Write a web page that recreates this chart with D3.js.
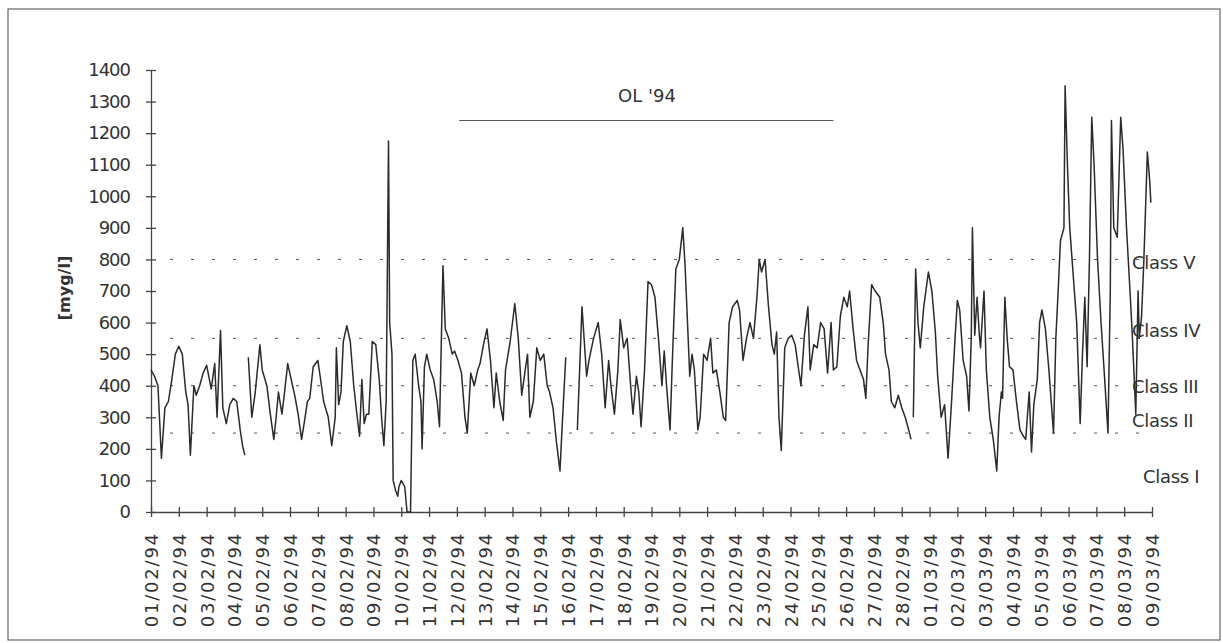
<!DOCTYPE html>
<html>
<head>
<meta charset="utf-8">
<script src="https://cdn.jsdelivr.net/npm/d3@7"></script>
<style>
  body { margin: 0; background: #fff; }
  svg text { font-family: "DejaVu Sans", sans-serif; fill: #333; }
</style>
</head>
<body>
<svg id="chart" width="1223" height="643"></svg>
<script>
const dayLabels = [
  "01/02/94", "02/02/94", "03/02/94", "04/02/94", "05/02/94", "06/02/94", "07/02/94",
  "08/02/94", "09/02/94", "10/02/94", "11/02/94", "12/02/94", "13/02/94", "14/02/94",
  "15/02/94", "16/02/94", "17/02/94", "18/02/94", "19/02/94", "20/02/94", "21/02/94",
  "22/02/94", "23/02/94", "24/02/94", "25/02/94", "26/02/94", "27/02/94", "28/02/94",
  "01/03/94", "02/03/94", "03/03/94", "04/03/94", "05/03/94", "06/03/94", "07/03/94",
  "08/03/94", "09/03/94"
];
const yTicks = [0, 100, 200, 300, 400, 500, 600, 700, 800, 900, 1000, 1100, 1200, 1300, 1400];
const classLimits = [250, 400, 550, 800];
const classNames = ["Class I", "Class II", "Class III", "Class IV", "Class V"];
const olLabel = "OL '94";
const olPeriod = [266, 589]; // hours after 01/02/94 00:00
const olLevel = 1240;

// hours after 01/02/94 00:00, null = no measurement
const hours = [
  0, 3, 6, 9, 12, 15, 18, 21, 24, 27, 30, 32, 34, 37, 39, 42, 45, 48, 52, 55, 57, 60, 62, 65, 68, 71, 74, 77, 79, 81,
  82,
  84, 87, 90, 94, 96, 100, 103, 106, 108, 110, 113, 115, 118, 121, 124, 127, 130, 133, 135, 137, 140, 144, 146, 149,
  153, 156, 159, 160, 162, 164, 166, 169, 172, 175, 178, 180, 182, 184, 186, 188, 191, 194, 197, 199, 201, 203, 205,
  206, 208, 209, 211, 213, 214, 216, 219, 221, 224, 226, 228, 231, 233, 234, 236, 238, 241, 244, 247, 249, 252, 254,
  257, 260, 262, 265, 268, 271, 273, 276, 279, 282, 284, 287, 290, 293, 296, 298, 301, 304, 306, 310, 314, 317, 320,
  323, 325, 327, 330, 333, 336, 339, 342, 344, 347, 350, 353, 355, 358,
  362,
  368, 372, 376, 378, 382, 386, 389, 392, 395, 397, 400, 403, 405, 408, 411, 414, 416, 419, 421, 423, 426, 429, 432,
  435, 438, 441, 443, 445, 448, 450, 453, 456, 459, 461, 464, 465, 467, 469, 472, 474, 477, 480, 483, 485, 488, 491,
  494, 496, 499, 502, 506, 508, 511, 514, 517, 520, 523, 525, 527, 530, 533, 536, 538, 540, 542, 544, 547, 550, 553,
  556, 559, 561, 564, 567, 569, 572, 575, 578, 581, 584, 587, 589, 592, 595, 598, 601, 603, 606, 609, 612, 615, 617,
  619, 622, 625, 629, 632, 634, 637, 639, 642, 645, 648, 651, 654, 656,
  657,
  658, 660, 662, 664, 667, 671, 674, 677, 679, 682, 685, 688, 691, 694, 696, 698, 701, 704, 706, 708, 709, 711, 713,
  715, 716, 719, 721, 724, 727, 730, 732, 734, 735, 737, 739, 741, 744, 747, 750, 753, 755, 757, 758, 760, 762, 765,
  767, 769, 772, 775, 777, 779, 781, 783, 785, 788, 789, 791, 793, 797, 799, 802, 804, 806, 808, 810, 812, 814, 817,
  820, 823, 826, 828, 829, 831, 834, 837, 839, 842, 845, 847, 850, 852, 853, 855, 857, 860, 862, 863
];
const conc = [
  450, 430, 400, 170, 330, 350, 420, 500, 525, 500, 380, 340, 180, 400, 370, 400, 440, 465, 390, 470, 300, 575, 330, 280, 340, 360, 350, 260, 210, 180,
  null,
  490, 300, 380, 530, 450, 400, 310, 230, 300, 380, 310, 370, 470, 420, 370, 310, 230, 300, 350, 360, 460, 480, 430, 350,
  300, 210, 300, 520, 340, 380, 540, 590, 540, 400, 300, 240, 420, 280, 310, 310, 540, 530, 420, 300, 210, 350, 1175,
  600, 500, 100, 70, 50, 80, 100, 80, 0, 0, 480, 500, 400, 350, 200, 460, 500, 450, 420, 350, 270, 780, 580,
  550, 500, 510, 480, 440, 300, 250, 440, 400, 450, 470, 530, 580, 480, 330, 440, 350, 290, 450, 540, 660, 550, 370,
  450, 500, 300, 350, 520, 480, 500, 400, 380, 330, 220, 130, 280, 490,
  null,
  260, 650, 430, 480, 550, 600, 500, 330, 480, 400, 310, 450, 610, 520, 550, 400, 310, 430, 380, 270, 450, 730, 720,
  680, 550, 400, 510, 400, 260, 480, 770, 800, 900, 780, 520, 430, 500, 450, 260, 300, 500, 480, 550, 440, 450, 380,
  300, 290, 600, 650, 670, 640, 480, 550, 600, 550, 680, 800, 760, 800, 650, 530, 500, 570, 300, 195, 520, 550, 560,
  530, 450, 400, 560, 650, 450, 530, 520, 600, 580, 440, 600, 450, 460, 620, 680, 650, 700, 580, 480, 450, 420, 360,
  530, 720, 700, 680, 600, 500, 450, 350, 330, 370, 330, 300, 260, 230,
  null,
  300, 770, 600, 520, 650, 760, 700, 570, 430, 300, 340, 170, 350, 550, 670, 640, 480, 430, 320, 550, 900, 560, 680,
  560, 520, 700, 450, 300, 230, 130, 300, 380, 360, 680, 550, 460, 450, 350, 260, 240, 230, 330, 380, 190, 340, 420,
  600, 640, 580, 450, 350, 250, 550, 700, 860, 900, 1350, 1100, 900, 700, 600, 280, 500, 680, 460, 800, 1250, 1100, 800,
  600, 430, 250, 700, 1240, 900, 870, 1250, 1150, 900, 700, 560, 310, 700, 550, 620, 800, 1140, 1050, 980
];

const series = hours.map((h, i) => ({ h: h, v: conc[i] }));

const svg = d3.select("#chart");

// outer frame
svg.append("rect")
  .attr("x", 8).attr("y", 9)
  .attr("width", 1212).attr("height", 631)
  .attr("fill", "none")
  .attr("stroke", "#666")
  .attr("stroke-width", 1.2);

const x = d3.scaleLinear().domain([0, (dayLabels.length - 1) * 24]).range([151, 1152]);
const y = d3.scaleLinear().domain([0, 1400]).range([512, 70]);

// class limits
svg.selectAll(".limit")
  .data(classLimits)
  .enter()
  .append("line")
  .attr("class", "limit")
  .attr("x1", x(0))
  .attr("x2", x.range()[1] - 9)
  .attr("y1", (d) => y(d))
  .attr("y2", (d) => y(d))
  .attr("stroke", "#555")
  .attr("stroke-width", 1)
  .attr("stroke-dasharray", "3,18")
  .attr("stroke-dashoffset", 2);

// y axis
const yAxis = svg.append("g")
  .attr("transform", `translate(${x(0)},0)`)
  .call(
    d3.axisLeft(y)
      .tickValues(yTicks)
      .tickFormat(d3.format("d"))
      .tickSizeInner(5)
      .tickSizeOuter(0)
      .tickPadding(16)
  );
yAxis.select(".domain").attr("stroke", "#444").attr("stroke-width", 1.3);
yAxis.selectAll(".tick line").attr("x1", 5).attr("stroke", "#444").attr("stroke-width", 1.3);
yAxis.selectAll(".tick text")
  .style("font-family", "DejaVu Sans")
  .style("font-size", "18px")
  .style("letter-spacing", "-1px")
  .attr("fill", "#333");

// x axis
const xAxis = svg.append("g")
  .attr("transform", `translate(0,${y(0)})`)
  .call(
    d3.axisBottom(x)
      .tickValues(dayLabels.map((d, i) => i * 24))
      .tickFormat((d, i) => dayLabels[i])
      .tickSizeInner(5)
      .tickSizeOuter(0)
  );
xAxis.select(".domain").attr("stroke", "#444").attr("stroke-width", 1.3);
xAxis.selectAll(".tick line").attr("y1", -5).attr("stroke", "#444").attr("stroke-width", 1.3);
xAxis.selectAll(".tick text")
  .attr("transform", "rotate(-90)")
  .attr("text-anchor", "end")
  .attr("x", -20)
  .attr("y", 0)
  .attr("dy", "0.36em")
  .style("font-family", "DejaVu Sans")
  .style("font-size", "18px")
  .style("letter-spacing", "1.8px")
  .attr("fill", "#333");

// y label
svg.append("text")
  .attr("transform", "translate(70,288) rotate(-90)")
  .attr("text-anchor", "middle")
  .style("font-size", "16px")
  .style("font-weight", "bold")
  .text("[myg/l]");

// measured series
const line = d3.line()
  .defined((d) => d.v !== null)
  .x((d) => x(d.h))
  .y((d) => y(d.v));

svg.append("path")
  .datum(series)
  .attr("d", line)
  .attr("fill", "none")
  .attr("stroke", "#2b2b2b")
  .attr("stroke-width", 1.5)
  .attr("stroke-linejoin", "round");

// Olympic period
svg.append("line")
  .attr("x1", x(olPeriod[0]))
  .attr("x2", x(olPeriod[1]))
  .attr("y1", y(olLevel))
  .attr("y2", y(olLevel))
  .attr("stroke", "#555")
  .attr("stroke-width", 1.2);

svg.append("text")
  .attr("x", 647)
  .attr("y", 102)
  .attr("text-anchor", "middle")
  .style("font-size", "18px")
  .text(olLabel);

// class labels
const classBaseline = [92, 269, 377, 554, 770];
svg.selectAll(".cname")
  .data(classNames)
  .enter()
  .append("text")
  .attr("class", "cname")
  .attr("x", (d, i) => (i === 0 ? 1143 : 1132))
  .attr("y", (d, i) => y(classBaseline[i]))
  .style("font-size", "18px")
  .style("letter-spacing", "-0.3px")
  .text((d) => d);
</script>
</body>
</html>
